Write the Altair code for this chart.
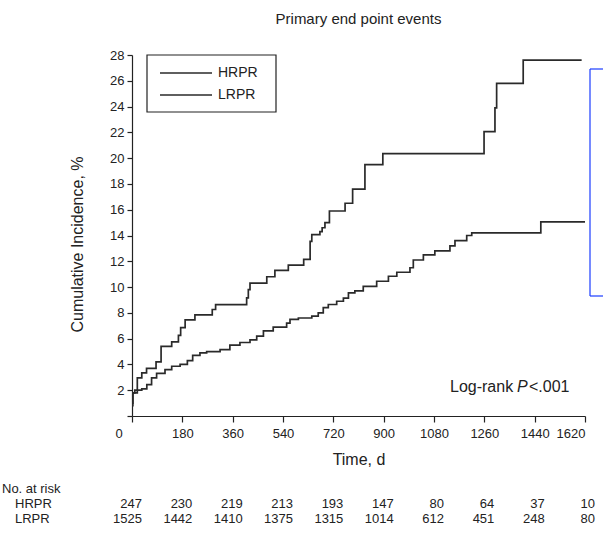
import altair as alt
import pandas as pd

# ---- data ----
hrpr_t = [0, 3, 19, 35, 52, 86, 104, 142, 166, 174, 190, 225, 287, 299, 410, 416, 422, 482, 511, 559,
          614, 637, 643, 672, 680, 690, 706, 762, 789, 833, 897, 1259, 1298, 1304, 1399, 1608]
hrpr_v = [0.8, 1.8, 2.96, 3.35, 3.7, 4.2, 5.4, 5.75, 6.25, 6.85, 7.45, 7.85, 8.26, 8.64, 9.16, 9.8, 10.3, 10.8,
          11.3, 11.7, 12.15, 13.55, 14.07, 14.3, 14.6, 15.0, 15.9, 16.5, 17.6, 19.5, 20.35, 22.05, 23.9, 25.8,
          27.6, 27.6]
lrpr_t = [0, 3, 10, 35, 53, 70, 88, 118, 142, 172, 198, 217, 243, 267, 315, 350, 386, 422, 446, 470, 505,
          553, 565, 595, 643, 666, 684, 702, 732, 756, 774, 797, 827, 875, 917, 947, 994, 1006, 1042, 1083,
          1137, 1155, 1197, 1215, 1462, 1620]
lrpr_v = [1.0, 1.8, 2.0, 2.1, 2.44, 2.96, 3.3, 3.6, 3.86, 4.0, 4.3, 4.7, 4.9, 5.0, 5.15, 5.5, 5.7, 5.9, 6.2,
          6.6, 6.9, 7.2, 7.5, 7.6, 7.75, 8.0, 8.4, 8.65, 8.9, 9.15, 9.55, 9.7, 10.06, 10.45, 10.84, 11.15,
          11.5, 12.1, 12.5, 12.8, 13.2, 13.6, 14.0, 14.2, 15.05, 15.05]

risk_times = [0, 180, 360, 540, 720, 900, 1080, 1260, 1440, 1620]
hrpr_risk = [247, 230, 219, 213, 193, 147, 80, 64, 37, 10]
lrpr_risk = [1525, 1442, 1410, 1375, 1315, 1014, 612, 451, 248, 80]

groups = ["HRPR", "LRPR"]
x_ticks = risk_times
y_ticks = list(range(0, 30, 2))

FONT = "Liberation Sans"
INK = "#222222"

curves = pd.DataFrame(
    {"t": hrpr_t + lrpr_t,
     "v": hrpr_v + lrpr_v,
     "group": ["HRPR"] * len(hrpr_t) + ["LRPR"] * len(lrpr_t)}
)
risk = pd.DataFrame({"t": risk_times, "hrpr": hrpr_risk, "lrpr": lrpr_risk})
one = pd.DataFrame({"k": [0]})

xscale = alt.Scale(domain=[0, 1620], nice=False, zero=False)
yscale = alt.Scale(domain=[0, 28], nice=False)

lines = alt.Chart(curves).mark_line(interpolate="step-after", strokeWidth=1.7).encode(
    x=alt.X("t:Q", scale=xscale, title="Time, d",
            axis=alt.Axis(values=x_ticks, format="d", tickSize=6, labelPadding=5, titlePadding=11,
                          labelOffset={"condition": {"test": "datum.value == 0", "value": -17}, "value": 0})),
    y=alt.Y("v:Q", scale=yscale, title="Cumulative Incidence, %",
            axis=alt.Axis(values=y_ticks, tickSize=5, labelPadding=3, titlePadding=24, titleY=189,
                          labelExpr="datum.value == 0 ? '' : datum.label")),
    color=alt.Color("group:N", scale=alt.Scale(domain=groups, range=["#2a2a2a", "#2a2a2a"]), legend=None),
    detail="group:N",
)

# legend box (manual, both series drawn alike in the reference)
leg_box = alt.Chart(one).mark_rect(fillOpacity=0, stroke=INK, strokeWidth=1.2).encode(
    x=alt.value(15), x2=alt.value(144), y=alt.value(0), y2=alt.value(57))
leg_df = pd.DataFrame({"label": groups, "yy": [18, 40]})
leg_lines = alt.Chart(leg_df).mark_rule(color="#2a2a2a", strokeWidth=1.5).encode(
    x=alt.value(28), x2=alt.value(80), y=alt.Y("yy:Q", scale=None))
leg_text = alt.Chart(leg_df).mark_text(align="left", baseline="middle", font=FONT, fontSize=14,
                                       color=INK).encode(
    x=alt.value(86), y=alt.Y("yy:Q", scale=None), text="label:N")

# blue bracket on the right
bracket_v = alt.Chart(one).mark_rule(color="#1a3cff", strokeWidth=1.2).encode(
    x=alt.value(458), y=alt.value(14), y2=alt.value(241))
bracket_top = alt.Chart(one).mark_rule(color="#1a3cff", strokeWidth=1.2).encode(
    x=alt.value(458), x2=alt.value(475), y=alt.value(14))
bracket_bot = alt.Chart(one).mark_rule(color="#1a3cff", strokeWidth=1.2).encode(
    x=alt.value(458), x2=alt.value(475), y=alt.value(241))

# log-rank annotation
lr1 = alt.Chart(one).mark_text(align="left", baseline="middle", font=FONT, fontSize=16, color=INK,
                               text="Log-rank").encode(x=alt.value(318), y=alt.value(332))
lr2 = alt.Chart(one).mark_text(align="left", baseline="middle", font=FONT, fontSize=16, color=INK,
                               fontStyle="italic", text="P").encode(x=alt.value(385), y=alt.value(332))
lr3 = alt.Chart(one).mark_text(align="left", baseline="middle", font=FONT, fontSize=16, color=INK,
                               text="<.001").encode(x=alt.value(397), y=alt.value(332))

# number at risk table
risk_h = alt.Chart(risk).mark_text(align="right", baseline="middle", font=FONT, fontSize=13, color=INK,
                                   dx=10).encode(
    x=alt.X("t:Q", scale=xscale), y=alt.value(449), text="hrpr:Q")
risk_l = alt.Chart(risk).mark_text(align="right", baseline="middle", font=FONT, fontSize=13, color=INK,
                                   dx=10).encode(
    x=alt.X("t:Q", scale=xscale), y=alt.value(464), text="lrpr:Q")
rows_df = pd.DataFrame({"lab": ["No. at risk", "HRPR", "LRPR"], "xx": [-130, -117, -117],
                        "yy": [434, 449, 464]})
risk_labels = alt.Chart(rows_df).mark_text(align="left", baseline="middle", font=FONT, fontSize=13,
                                           color=INK).encode(
    x=alt.X("xx:Q", scale=None), y=alt.Y("yy:Q", scale=None), text="lab:N")

chart = alt.layer(
    lines, leg_box, leg_lines, leg_text, bracket_v, bracket_top, bracket_bot, lr1, lr2, lr3,
    risk_h, risk_l, risk_labels
).properties(
    width=453, height=361,
    title=alt.Title("Primary end point events", fontSize=15, fontWeight="normal", font=FONT,
                    color=INK, offset=22, anchor="middle"),
    autosize=alt.AutoSizeParams(type="none"),
    padding={"left": 132, "top": 55, "right": 18, "bottom": 121},
).configure_view(stroke=None).configure_axis(
    grid=False, domainColor=INK, tickColor=INK, domainWidth=1.2, tickWidth=1.2,
    labelFont=FONT, labelFontSize=13, labelColor=INK,
    titleFont=FONT, titleFontSize=16, titleFontWeight="normal", titleColor=INK,
)

chart.save("out.html", embed_options={"renderer": "svg", "actions": False})
